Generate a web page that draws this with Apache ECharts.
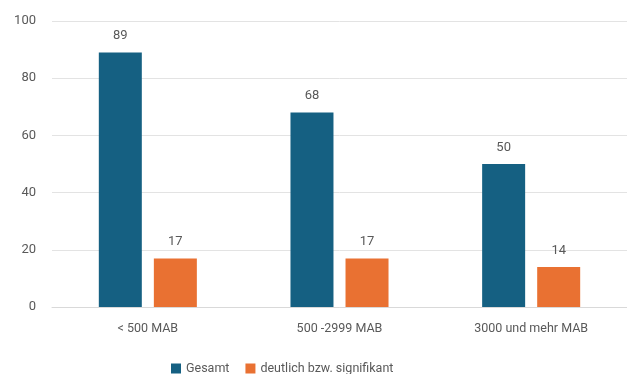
<!DOCTYPE html>
<html>
<head>
<meta charset="utf-8">
<script src="https://cdn.jsdelivr.net/npm/echarts@6/dist/echarts.min.js"></script>
<style>
  html, body { margin: 0; padding: 0; background: #fff; }
  #chart { width: 627px; height: 374px; }
</style>
</head>
<body>
<div id="chart"></div>
<script>
const categories = ['< 500 MAB', '500 -2999 MAB', '3000 und mehr MAB'];
const gesamt = [89, 68, 50];
const signifikant = [17, 17, 14];
const yTicks = [0, 20, 40, 60, 80, 100];

const chart = echarts.init(document.getElementById('chart'));
const font = 'Roboto, sans-serif';
const labelStyle = { show: true, position: 'top', color: '#595959', fontSize: 13, fontFamily: font, distance: 10 };

chart.setOption({
  animation: false,
  textStyle: { fontFamily: font },
  grid: { left: 52, right: 0, top: 21, bottom: 67 },
  legend: {
    left: 166,
    top: 357,
    itemWidth: 10,
    itemHeight: 10,
    itemGap: 16,
    icon: 'rect',
    textStyle: { color: '#595959', fontSize: 12.5, fontFamily: font },
    data: ['Gesamt', 'deutlich bzw. signifikant']
  },
  xAxis: {
    type: 'category',
    data: categories,
    axisTick: { show: false },
    axisLine: { lineStyle: { color: '#d9d9d9' } },
    axisLabel: { color: '#595959', fontSize: 12.5, fontFamily: font, margin: 15 }
  },
  yAxis: {
    type: 'value',
    min: yTicks[0],
    max: yTicks[yTicks.length - 1],
    interval: 20,
    axisLabel: { color: '#595959', fontSize: 13, fontFamily: font, margin: 16 },
    splitLine: { lineStyle: { color: '#e3e3e3' } },
    axisLine: { show: false },
    axisTick: { show: false }
  },
  series: [
    {
      name: 'Gesamt',
      type: 'bar',
      data: gesamt,
      barWidth: 43,
      barGap: '28%',
      itemStyle: { color: '#156082' },
      label: labelStyle
    },
    {
      name: 'deutlich bzw. signifikant',
      type: 'bar',
      data: signifikant,
      barWidth: 43,
      itemStyle: { color: '#e97132' },
      label: labelStyle
    }
  ]
});
</script>
</body>
</html>
